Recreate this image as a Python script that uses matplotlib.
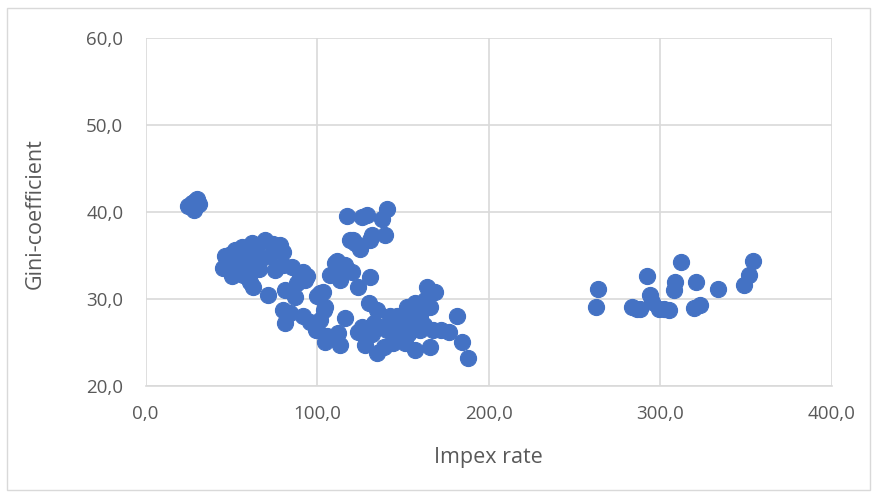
import matplotlib
matplotlib.use("Agg")
import matplotlib.pyplot as plt
from matplotlib.patches import Rectangle
from matplotlib.ticker import FuncFormatter

# Impex rate (x) and Gini-coefficient (y) per observation
impex_rate = [
    # low-impex group
    25, 27, 28, 29, 30, 31, 29,
    # main left cluster
    45.4, 46.4, 52.2, 56.1, 61.9, 69.7, 78.4, 80.3, 72.6, 66.8, 50.3, 61.9,
    62.9, 71.6, 75.5, 80.4, 85.2, 92.0, 94.0, 81.3, 80.4, 81.3, 84.3, 92.0,
    99.8, 103.7, 104.7, 101.7, 99.8, 105.7, 52, 55, 58, 60, 57, 63, 65, 54,
    59, 61, 66, 48, 50, 88.3, 90.0, 93.0, 96.0, 99.4, 104.0, 74.0, 87.0,
    # upper middle cluster
    117.3, 119.2, 129.3, 126.0, 140.6, 137.7, 120.8, 125.1, 131.9, 130.9,
    139.7, 122.2,
    # middle cluster
    110.5, 114.4, 107.6, 111.5, 116.3, 120.2, 113.4, 124.1, 130.9, 101.7,
    # lower dense cluster
    116.3, 112.4, 113.4, 104.7, 124.1, 128.0, 130.5, 134.8, 134.8, 138.7,
    142.6, 147.4, 152.3, 157.1, 164.0, 168.8, 165.9, 157.1, 165.9, 160.1,
    167.8, 181.5, 176.6, 184.4, 188.2, 144.5, 150.3, 155.2, 140.6, 146.4,
    153.2, 136.7, 144.5, 151.3, 160.1, 163.0, 126.0, 131.9, 148.0, 154.0,
    158.0, 162.0, 143.0, 150.0, 172.0, 133.0,
    # high-impex group
    263.4, 262.5, 283.5, 288.3, 286.4, 292.2, 294.2, 295.2, 299.0, 302.0,
    304.8, 312.2, 308.7, 307.7, 321.0, 323.3, 319.4, 333.6, 348.6, 351.5,
    354.0,
]
gini_coefficient = [
    40.7, 41.0, 40.2, 41.3, 41.5, 40.9, 40.6,
    33.6, 34.9, 35.6, 36.0, 36.4, 36.8, 36.2, 35.4, 34.9, 34.5, 32.6, 33.3,
    31.4, 30.5, 33.3, 33.9, 33.7, 33.1, 32.6, 31.0, 28.7, 27.2, 28.4, 28.0,
    30.3, 30.8, 29.1, 27.6, 26.4, 25.7, 34.0, 33.5, 34.8, 35.2, 32.8, 35.5,
    36.0, 35.0, 33.0, 32.0, 33.5, 34.2, 35.2, 31.8, 32.8, 32.2, 27.4, 26.4,
    28.7, 36.3, 30.2,
    39.5, 36.8, 39.7, 39.4, 40.3, 39.2, 36.8, 35.8, 37.4, 36.8, 37.4, 36.4,
    34.1, 33.3, 32.8, 34.4, 33.9, 33.1, 32.2, 31.4, 32.5, 30.7,
    27.8, 26.1, 24.7, 25.1, 26.2, 24.7, 29.5, 28.7, 23.8, 24.5,
    28.0, 25.5, 29.1, 29.5, 31.4, 30.8, 29.1, 24.1, 24.5, 26.4,
    26.4, 28.0, 26.2, 25.1, 23.2, 26.8, 27.2, 27.4, 26.4, 28.0,
    26.0, 26.8, 24.9, 24.9, 28.0, 29.9, 26.8, 26.0, 27.8, 28.4,
    26.6, 27.0, 27.6, 26.0, 26.4, 27.2,
    31.1, 29.1, 29.1, 28.8, 28.9, 32.6, 30.5, 29.7, 28.9, 28.8,
    28.7, 34.2, 32.0, 31.0, 31.9, 29.3, 29.0, 31.1, 31.6, 32.8,
    34.4,
]

x_ticks = [0, 100, 200, 300, 400]
y_ticks = [20, 30, 40, 50, 60]

W, H = 877, 497
fig = plt.figure(figsize=(W / 100, H / 100), dpi=100)
plt.rcParams["font.family"] = ["Open Sans", "DejaVu Sans"]

left, right, top, bottom = 145.5, 832, 38, 386
ax = fig.add_axes([left / W, 1 - bottom / H, (right - left) / W, (bottom - top) / H])

blue = "#4472C4"
text_gray = "#595959"
grid_gray = "#D9D9D9"

ax.scatter(impex_rate, gini_coefficient, s=135, color=blue, edgecolors=blue,
           linewidths=0.8, zorder=3, clip_on=False)

ax.set_xlim(x_ticks[0], x_ticks[-1])
ax.set_ylim(y_ticks[0], y_ticks[-1])
ax.set_xticks(x_ticks)
ax.set_yticks(y_ticks)

fmt = FuncFormatter(lambda v, p: f"{v:.1f}".replace(".", ","))
ax.xaxis.set_major_formatter(fmt)
ax.yaxis.set_major_formatter(fmt)

ax.grid(True, color=grid_gray, linewidth=1.2, zorder=0)
ax.set_axisbelow(True)
for side in ["top", "right", "left"]:
    ax.spines[side].set_visible(False)
ax.spines["bottom"].set_color(grid_gray)
ax.spines["bottom"].set_linewidth(1.2)

ax.tick_params(axis="both", length=0, colors=text_gray, labelsize=13.5)
ax.tick_params(axis="x", pad=14)
ax.tick_params(axis="y", pad=16)

fig.text(488 / W, 1 - 458 / H, "Impex rate", ha="center", va="center",
         fontsize=15.5, color=text_gray)
fig.text(35 / W, 1 - 214 / H, "Gini-coefficient", ha="center", va="center",
         rotation=90, fontsize=15.5, color=text_gray)

fig.patches.append(Rectangle((7 / W, 1 - 490 / H), 863 / W, 482 / H,
                             transform=fig.transFigure, fill=False,
                             edgecolor=grid_gray, linewidth=1.0))

fig.savefig("out.png", dpi=100)
